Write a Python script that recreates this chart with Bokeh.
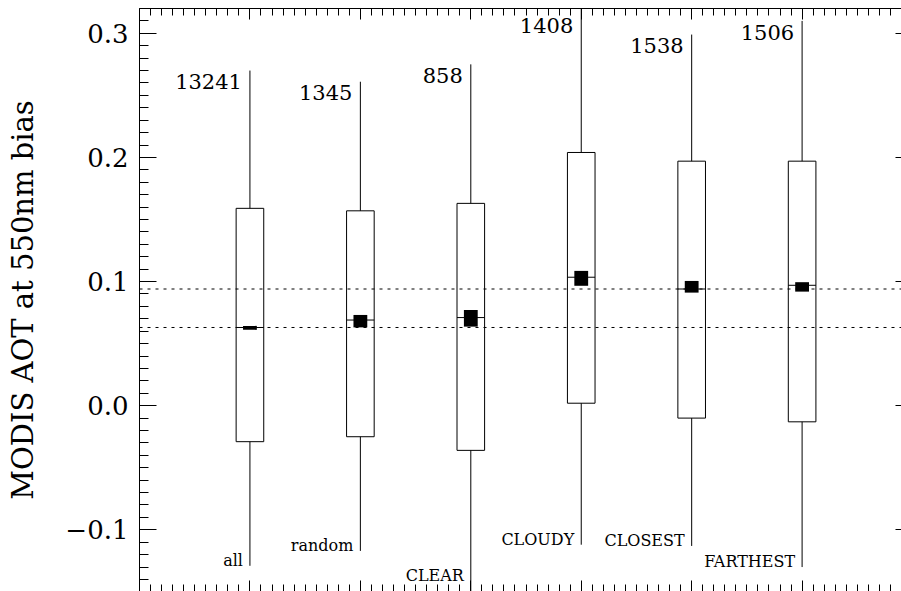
import numpy as np
from bokeh.plotting import figure
from bokeh.models import (ColumnDataSource, LinearAxis, FixedTicker, Range1d,
                          CustomJSTickFormatter, Span)
from bokeh.embed import file_html
from bokeh.resources import INLINE
from bokeh.core.properties import value

# ---- data ----
categories = ["all", "random", "CLEAR", "CLOUDY", "CLOSEST", "FARTHEST"]
counts = ["13241", "1345", "858", "1408", "1538", "1506"]
whisker_hi = [0.270, 0.261, 0.275, 0.335, 0.299, 0.310]
q3 = [0.159, 0.157, 0.163, 0.204, 0.197, 0.197]
median = [0.063, 0.069, 0.071, 0.1035, 0.094, 0.097]
q1 = [-0.029, -0.025, -0.036, 0.002, -0.010, -0.013]
whisker_lo = [-0.129, -0.117, -0.160, -0.112, -0.113, -0.130]
mean = [0.0627, 0.0681, 0.0704, 0.1026, 0.0958, 0.0957]
mean_err = [0.0016, 0.0050, 0.0067, 0.0060, 0.0047, 0.0038]
y_ticks = [-0.1, 0.0, 0.1, 0.2, 0.3]
y_label = "MODIS AOT at 550nm bias"

FONT = "DejaVu Serif"
BOX_HW = 0.125
MEAN_HW = 0.0625

x = np.arange(1, len(categories) + 1, dtype=float)
src = ColumnDataSource(dict(
    x=x, cat=categories, n=counts,
    whi=whisker_hi, q3=q3, med=median, q1=q1, wlo=whisker_lo,
    left=x - BOX_HW, right=x + BOX_HW,
    mleft=x - MEAN_HW, mright=x + MEAN_HW,
    mtop=np.array(mean) + np.array(mean_err),
    mbot=np.array(mean) - np.array(mean_err),
    ny=np.minimum(whisker_hi, 0.315) - 0.009,
    cy=np.maximum(whisker_lo, -0.1415) + 0.0045,
))

p = figure(width=901, height=591,
           x_range=Range1d(0, 6.9), y_range=Range1d(-0.1497, 0.32),
           output_backend="svg", toolbar_location=None,
           x_axis_location=None, y_axis_location="left",
           min_border_left=139, min_border_top=8,
           min_border_right=0, min_border_bottom=0)
p.outline_line_color = None
p.grid.visible = False
p.background_fill_color = "white"
p.border_fill_color = "white"

# reference lines at the medians of "all" and "CLOSEST"
for v in (median[0], median[4]):
    p.add_layout(Span(location=v, dimension="width", line_color="black",
                      line_width=1, line_dash="3 5"))

# whiskers
p.segment(x0="x", y0="q3", x1="x", y1="whi", source=src, line_color="black", line_width=1)
p.segment(x0="x", y0="q1", x1="x", y1="wlo", source=src, line_color="black", line_width=1)
# boxes
p.quad(left="left", right="right", top="q3", bottom="q1", source=src,
       fill_color=None, line_color="black", line_width=1)
# medians
p.segment(x0="left", y0="med", x1="right", y1="med", source=src,
          line_color="black", line_width=1)
# mean +- error
p.quad(left="mleft", right="mright", top="mtop", bottom="mbot", source=src,
       fill_color="black", line_color=None)

# counts
p.text(x="x", y="ny", text="n", source=src, text_align="right",
       text_baseline="alphabetic", x_offset=-8,
       text_font=value(FONT), text_font_size="21px", text_color="black")
# category names
p.text(x="x", y="cy", text="cat", source=src, text_align="right",
       text_baseline="alphabetic", x_offset=-7,
       text_font=value(FONT), text_font_size="16px", text_color="black")

# ---- axes ----
yminor = list(np.round(np.arange(-0.15, 0.3201, 0.01), 2))
xminor = list(np.round(np.arange(0, 6.91, 0.1), 1))

ya = p.yaxis[0]
ya.ticker = FixedTicker(ticks=y_ticks, minor_ticks=yminor)
ya.formatter = CustomJSTickFormatter(code="return tick.toFixed(1).replace('-', '\\u2212');")
ya.major_tick_in = 17
ya.major_tick_out = 0
ya.minor_tick_in = 9
ya.minor_tick_out = 0
ya.major_label_standoff = 11
ya.major_label_text_font = FONT
ya.major_label_text_font_size = "26px"
ya.major_label_text_color = "black"
ya.axis_line_color = "black"
ya.major_tick_line_color = "black"
ya.minor_tick_line_color = "black"
ya.axis_label = y_label
ya.axis_label_text_font = FONT
ya.axis_label_text_font_size = "29px"
ya.axis_label_text_font_style = "normal"
ya.axis_label_text_color = "black"
ya.axis_label_standoff = 22


def bare_axis(ticker, tin, minor_in, line=True):
    ax = LinearAxis(ticker=ticker)
    ax.formatter = CustomJSTickFormatter(code="return '';")
    ax.major_tick_in = tin
    ax.major_tick_out = 0
    ax.minor_tick_in = minor_in
    ax.minor_tick_out = 0
    ax.major_label_text_font_size = "10px"
    ax.major_label_standoff = 0
    ax.major_tick_line_color = "black"
    ax.minor_tick_line_color = "black" if minor_in > 0 else None
    ax.axis_line_color = "black" if line else None
    return ax


p.add_layout(bare_axis(FixedTicker(ticks=list(x), minor_ticks=xminor), 11, 7, True), "above")
p.add_layout(bare_axis(FixedTicker(ticks=list(x), minor_ticks=xminor), 11, 7, False), "below")
p.add_layout(bare_axis(FixedTicker(ticks=y_ticks, minor_ticks=[]), 6, 0, False), "right")

open("out.html", "w").write(file_html(p, INLINE))
